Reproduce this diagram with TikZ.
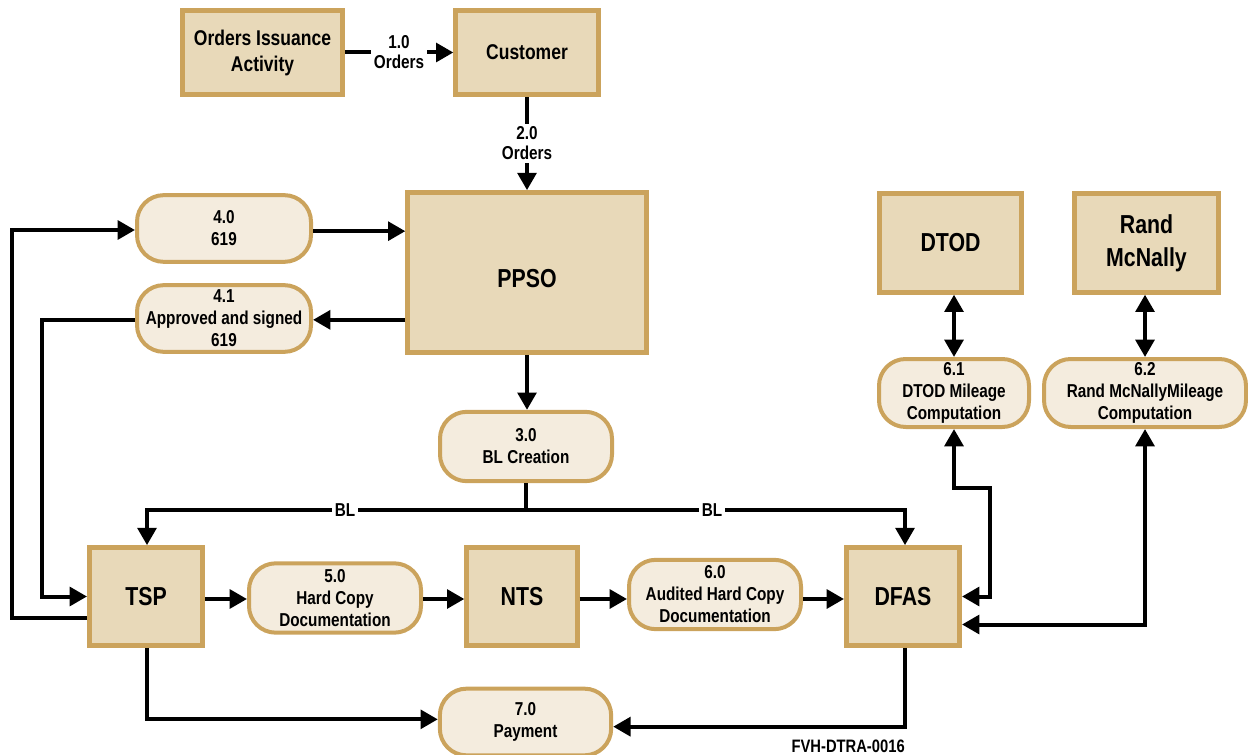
\documentclass[tikz,border=0pt]{standalone}
\usepackage{fontspec}
\setmainfont{Liberation Sans}[FakeStretch=0.82]
\usetikzlibrary{arrows.meta}
\definecolor{boxfill}{RGB}{232,217,185}
\definecolor{boxline}{RGB}{203,163,92}
\definecolor{rndfill}{RGB}{244,236,222}
\newcommand\dgsmall{\fontsize{14}{16.5}\selectfont\bfseries}
\newcommand\dglabel{\fontsize{14}{15}\selectfont\bfseries}
\newcommand\dgmed{\fontsize{16}{19.5}\selectfont\bfseries}
\newcommand\dglarge{\fontsize{19.5}{25}\selectfont\bfseries}
\begin{document}
\begin{tikzpicture}[x=0.75pt,y=-0.75pt,
  ent/.style={draw=boxline,fill=boxfill,line width=3.5pt,align=center,inner sep=0pt},
  proc/.style={draw=boxline,fill=rndfill,line width=3pt,rounded corners=20pt,align=center,inner sep=0pt,minimum width=129pt,minimum height=52pt,font=\dgsmall},
  arr/.style={line width=3pt,-{Triangle[length=13pt,width=14pt]}},
  arrtwo/.style={line width=3pt,{Triangle[length=13pt,width=14pt]}-{Triangle[length=13pt,width=14pt]}},
  plain/.style={line width=3pt},
  lbl/.style={fill=white,inner sep=2pt,align=center,font=\dglabel}]
\useasboundingbox (0,0) rectangle (1248,755);
% entities
\node[ent,minimum width=120pt,minimum height=63pt,font=\dgmed] (oia) at (262.5,52.5) {Orders Issuance\\Activity};
\node[ent,minimum width=107pt,minimum height=63pt,font=\dgmed] (cust) at (527,52.5) {Customer};
\node[ent,minimum width=179pt,minimum height=120pt,font=\dglarge] (ppso) at (527,272.5) {};
\node[font=\dglarge,inner sep=0pt] (ppsotext) at (527,279) {PPSO};
\node[ent,minimum width=106.5pt,minimum height=74pt,font=\dglarge] (dtod) at (950.5,243) {DTOD};
\node[ent,minimum width=108pt,minimum height=74pt,font=\dglarge] (rand) at (1146.5,243) {Rand\\McNally};
\node[ent,minimum width=85pt,minimum height=73.5pt,font=\dglarge] (tsp) at (146,596.5) {TSP};
\node[ent,minimum width=83pt,minimum height=73.5pt,font=\dglarge] (nts) at (522,596.5) {NTS};
\node[ent,minimum width=85pt,minimum height=73.5pt,font=\dglarge] (dfas) at (903,596.5) {DFAS};
% processes
\node[proc,minimum width=130.5pt,minimum height=50pt] (n40) at (224,228.5) {4.0\\619};
\node[proc,minimum width=130.5pt,minimum height=50pt] (n41) at (224,318.5) {4.1\\Approved and signed\\619};
\node[proc] (n30) at (526,446.5) {3.0\\BL Creation};
\node[proc] (n50) at (335,598) {5.0\\Hard Copy\\Documentation};
\node[proc] (n60) at (715,594.5) {6.0\\Audited Hard Copy\\Documentation};
\node[proc,minimum width=128.5pt,minimum height=50pt] (n70) at (525.5,722) {7.0\\Payment};
\node[proc,minimum width=112.5pt,minimum height=51pt] (n61) at (954,393) {6.1\\DTOD Mileage\\Computation};
\node[proc,minimum width=151.5pt,minimum height=51pt] (n62) at (1145,393) {6.2\\Rand McNallyMileage\\Computation};
% helper coordinates
\coordinate (outerx) at (12,230);
\coordinate (innerx) at (42,320);
\coordinate (bl) at (526,510);
\coordinate (row) at (0,599);
\coordinate (jog) at (990,488);
% connectors
\draw[arr] (oia.east) -- node[lbl] {1.0\\Orders} (cust.west);
\draw[arr] (cust.south) -- node[lbl] {2.0\\Orders} (ppso.north);
\draw[arr] ([yshift=-2pt]n40.east) -- ([yshift=-2pt]n40.east -| ppso.west);
\draw[arr] ([yshift=-1pt]n41.east -| ppso.west) -- ([yshift=-1pt]n41.east);
\draw[arr] ([yshift=-1pt]n41.west) -| (innerx |- tsp.west) -- (tsp.west);
\draw[arr] ([yshift=-15.75pt]tsp.west) -| (outerx) -- (outerx -| n40.west);
\draw[arr] (ppso.south) -- (ppso.south |- n30.north);
\draw[plain] (n30.south) -- (bl);
\draw[arr] (bl) -| ([xshift=0.75pt]tsp.north);
\draw[arr] (bl) -| ([xshift=1.5pt]dfas.north);
\node[lbl] (bla) at (345,510) {BL};
\node[lbl] (blb) at (712,510) {BL};
\draw[arr] (tsp.east |- row) -- (n50.west |- row);
\draw[arr] (n50.east |- row) -- (nts.west |- row);
\draw[arr] (nts.east |- row) -- (n60.west |- row);
\draw[arr] (n60.east |- row) -- (dfas.west |- row);
\draw[arr] ([xshift=0.75pt]tsp.south) |- ([yshift=2pt]n70.west);
\draw[arr] ([xshift=1.5pt]dfas.south) |- ([yshift=-3.5pt]n70.east);
\draw[arrtwo] (dtod.south -| n61.north) -- (n61.north);
\draw[arrtwo] (rand.south -| n62.north) -- (n62.north);
\draw[arrtwo] (n61.south) |- (jog) |- (dfas.east);
\draw[arrtwo] (n62.south) |- ([yshift=-21pt]dfas.east);
\node[anchor=south east,inner sep=0pt,font=\fontsize{13.5}{16}\selectfont\bfseries] (fid) at (905,753) {FVH-DTRA-0016};
\end{tikzpicture}
\end{document}
